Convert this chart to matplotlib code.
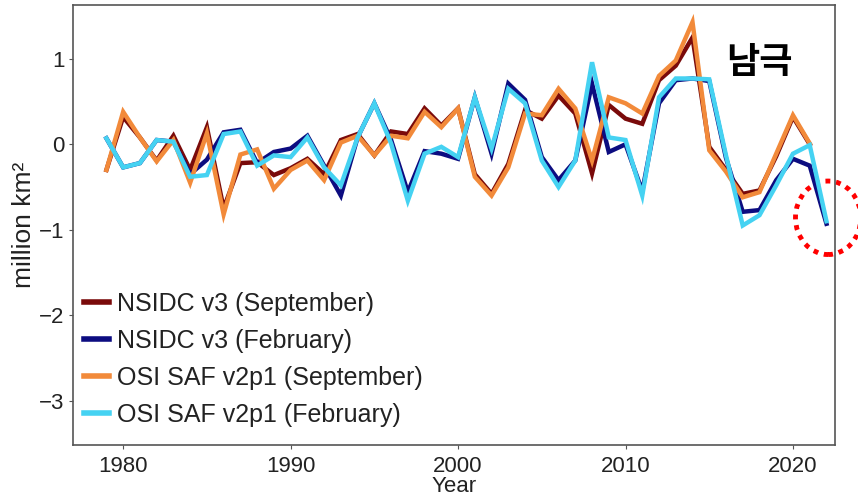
import numpy as np
import matplotlib.pyplot as plt
from matplotlib.patches import Ellipse

# Anomalie dell'estensione del ghiaccio marino antartico (milioni di km^2)
anni = list(range(1979, 2023))

nsidc_set = [-0.30, 0.32, 0.08, -0.19, 0.10, -0.30, 0.20, -0.75, -0.22, -0.21,
             -0.36, -0.28, -0.17, -0.35, 0.05, 0.12, -0.13, 0.15, 0.12, 0.42,
             0.22, 0.42, -0.35, -0.58, -0.23, 0.40, 0.30, 0.57, 0.36, -0.34,
             0.46, 0.30, 0.24, 0.75, 0.92, 1.25, -0.03, -0.30, -0.58, -0.54,
             -0.14, 0.32, 0.00]
nsidc_feb = [0.07, -0.27, -0.22, 0.05, 0.03, -0.35, -0.18, 0.14, 0.17, -0.22,
             -0.09, -0.05, 0.10, -0.25, -0.60, 0.08, 0.48, 0.05, -0.56, -0.08,
             -0.11, -0.17, 0.55, -0.11, 0.71, 0.52, -0.15, -0.42, -0.19, 0.71,
             -0.09, 0.00, -0.55, 0.48, 0.75, 0.77, 0.74, -0.16, -0.79, -0.77,
             -0.42, -0.17, -0.25, -0.93]
osi_set = [-0.30, 0.38, 0.08, -0.20, 0.05, -0.45, 0.13, -0.82, -0.12, -0.06,
           -0.52, -0.30, -0.19, -0.42, 0.02, 0.10, -0.13, 0.10, 0.07, 0.38,
           0.20, 0.42, -0.38, -0.60, -0.27, 0.36, 0.34, 0.65, 0.42, -0.19,
           0.55, 0.48, 0.36, 0.80, 0.98, 1.43, -0.07, -0.32, -0.62, -0.56,
           -0.11, 0.34, 0.01]
osi_feb = [0.07, -0.27, -0.22, 0.05, 0.03, -0.38, -0.36, 0.12, 0.15, -0.25,
           -0.13, -0.15, 0.08, -0.27, -0.48, 0.08, 0.48, 0.01, -0.66, -0.11,
           -0.03, -0.15, 0.55, -0.05, 0.65, 0.48, -0.19, -0.50, -0.19, 0.96,
           0.08, 0.05, -0.60, 0.55, 0.77, 0.77, 0.76, -0.13, -0.95, -0.83,
           -0.48, -0.11, -0.01, -0.90]

serie = [
    ("NSIDC v3 (September)", nsidc_set, "#7a0a0a"),
    ("NSIDC v3 (February)", nsidc_feb, "#0c0c80"),
    ("OSI SAF v2p1 (September)", osi_set, "#f28a3a"),
    ("OSI SAF v2p1 (February)", osi_feb, "#45d2f2"),
]

plt.rcParams['font.family'] = ['Liberation Sans', 'DejaVu Sans']

fig = plt.figure(figsize=(8.58, 4.99), dpi=100)
ax = fig.add_axes([0.085, 0.108, 0.888, 0.882])

for nome, valori, colore in serie:
    ax.plot(anni[:len(valori)], valori, color=colore, linewidth=3.2,
            solid_joinstyle='miter', label=nome)

ax.set_xlim(1977.0, 2022.5)
ax.set_ylim(-3.52, 1.63)
ax.set_xticks([1980, 1990, 2000, 2010, 2020])
ax.set_yticks([1, 0, -1, -2, -3])
ax.tick_params(labelsize=16, length=3, pad=3, color='#555555', labelcolor='#222222')
ax.tick_params(axis='x', pad=5)
for s in ax.spines.values():
    s.set_color('#555555')
    s.set_linewidth(1.2)

ax.set_xlabel('Year', fontsize=16, labelpad=-1, color='#222222')
ax.set_ylabel('million km²', fontsize=19, labelpad=2, color='#222222')

leg = ax.legend(loc='lower left', bbox_to_anchor=(0.008, 0.03), frameon=False,
                fontsize=18, handlelength=1.0, handletextpad=0.3,
                labelspacing=0.52, borderpad=0.2, borderaxespad=0)
for l in leg.get_lines():
    l.set_linewidth(4)
for t in leg.get_texts():
    t.set_color('#222222')

ax.text(2018.0, 0.96, '남극', fontsize=26, fontweight='bold',
        family=['Noto Sans CJK KR', 'DejaVu Sans'], ha='center', va='center')

# Cerchio rosso tratteggiato sull'ultimo valore
cerchio = Ellipse((2022.1, -0.86), width=3.9, height=0.86, fill=False,
                  edgecolor='red', linestyle=(0, (1, 1.2)), linewidth=3.5,
                  clip_on=False)
ax.add_patch(cerchio)

fig.savefig('out.png', dpi=100)
